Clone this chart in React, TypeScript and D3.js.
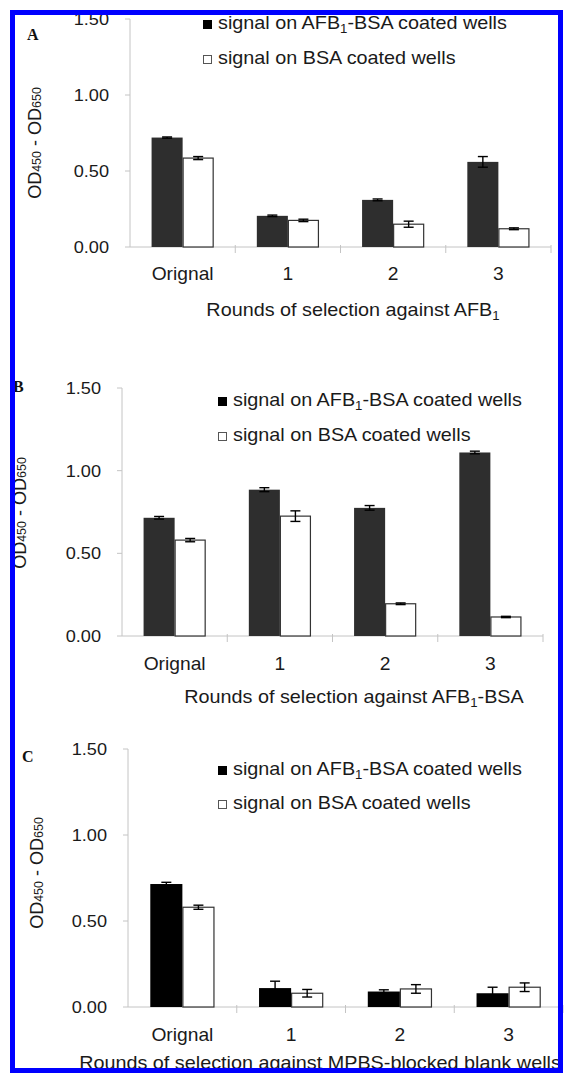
import * as d3 from "d3";

const W = 566;
const H = 1073;
const SX = 1.1; // the source figure is stretched sideways, text too
const FONT = "'Liberation Sans', Arial, Helvetica, sans-serif";

const categories = ["Orignal", "1", "2", "3"];
const yTicks = [0, 0.5, 1.0, 1.5];
const legendAfb = ["signal on AFB", "1", "-BSA coated wells"];
const legendBsa = "signal on BSA coated wells";

// panel A: selection against AFB1
const afbA = [0.72, 0.205, 0.31, 0.56];
const afbErrA = [0.004, 0.005, 0.006, 0.035];
const bsaA = [0.585, 0.175, 0.15, 0.12];
const bsaErrA = [0.01, 0.008, 0.02, 0.006];

// panel B: selection against AFB1-BSA
const afbB = [0.715, 0.885, 0.775, 1.11];
const afbErrB = [0.008, 0.012, 0.014, 0.008];
const bsaB = [0.58, 0.725, 0.195, 0.115];
const bsaErrB = [0.01, 0.032, 0.005, 0.004];

// panel C: selection against MPBS-blocked blank wells
const afbC = [0.715, 0.11, 0.09, 0.08];
const afbErrC = [0.01, 0.04, 0.01, 0.035];
const bsaC = [0.58, 0.08, 0.105, 0.115];
const bsaErrC = [0.012, 0.022, 0.025, 0.025];

const panels = [
  {
    letter: "A", afb: afbA, afbErr: afbErrA, bsa: bsaA, bsaErr: bsaErrA,
    title: ["Rounds of selection against AFB", "1", ""],
    x0: 130, x1: 551, yTop: 19, yBot: 247, fill: "#2e2e2e",
    legX: 203, leg1: 29, leg2: 64, tickY: 280, titleX: 353, titleY: 316,
    yLabX: 35, yLabY: 143, letX: 27, letY: 40,
  },
  {
    letter: "B", afb: afbB, afbErr: afbErrB, bsa: bsaB, bsaErr: bsaErrB,
    title: ["Rounds of selection against AFB", "1", "-BSA"],
    x0: 122, x1: 543, yTop: 388, yBot: 636, fill: "#2e2e2e",
    legX: 218, leg1: 406, leg2: 441, tickY: 670, titleX: 354, titleY: 703,
    yLabX: 20, yLabY: 513, letX: 13, letY: 392,
  },
  {
    letter: "C", afb: afbC, afbErr: afbErrC, bsa: bsaC, bsaErr: bsaErrC,
    title: ["Rounds of selection against MPBS-blocked blank wells", "", ""],
    x0: 128, x1: 563, yTop: 749, yBot: 1007, fill: "#000",
    legX: 218, leg1: 775, leg2: 809, tickY: 1041, titleX: 320, titleY: 1069,
    yLabX: 37, yLabY: 873, letX: 22, letY: 762,
  },
];

function Txt({ x, y, size, anchor = "start", children }) {
  return (
    <text
      transform={`translate(${x},${y}) scale(${SX},1)`}
      fontSize={size}
      textAnchor={anchor}
      fill="#1a1a1a"
    >
      {children}
    </text>
  );
}

function ErrBar({ cx, y, v, e }) {
  const top = y(v + e);
  const bot = y(v - e);
  return (
    <g stroke="#000" strokeWidth={1.4}>
      <line x1={cx} x2={cx} y1={top} y2={bot} />
      <line x1={cx - 5} x2={cx + 5} y1={top} y2={top} />
      <line x1={cx - 5} x2={cx + 5} y1={bot} y2={bot} />
    </g>
  );
}

function Panel({ p }) {
  const x = d3.scaleBand().domain(categories).range([p.x0, p.x1]);
  const y = d3.scaleLinear().domain([0, 1.5]).range([p.yBot, p.yTop]);
  const bw = x.bandwidth() * 0.295;
  const axis = "#c4c4c4";
  const bounds = categories.map((c) => x(c)).concat([p.x1]);

  return (
    <g fontFamily={FONT}>
      {/* axes */}
      <line x1={p.x0} x2={p.x0} y1={p.yTop} y2={p.yBot} stroke={axis} />
      <line x1={p.x0} x2={p.x1} y1={p.yBot} y2={p.yBot} stroke={axis} />
      {yTicks.map((t) => (
        <g key={t}>
          <line x1={p.x0 - 5} x2={p.x0} y1={y(t)} y2={y(t)} stroke={axis} />
          <Txt x={p.x0 - 21} y={y(t) + 6} size={16.5} anchor="end">
            {d3.format(".2f")(t)}
          </Txt>
        </g>
      ))}
      {bounds.slice(1).map((b, i) => (
        <line key={i} x1={b} x2={b} y1={p.yBot - 2} y2={p.yBot + 6} stroke={axis} />
      ))}

      {/* bars */}
      {categories.map((c, i) => {
        const cx = x(c) + x.bandwidth() / 2;
        return (
          <g key={c}>
            <rect x={cx - bw} y={y(p.afb[i])} width={bw} height={p.yBot - y(p.afb[i])} fill={p.fill} />
            <rect
              x={cx + 0.5}
              y={y(p.bsa[i])}
              width={bw - 1}
              height={p.yBot - y(p.bsa[i])}
              fill="#fff"
              stroke="#333"
              strokeWidth={1.2}
            />
            <ErrBar cx={cx - bw / 2} y={y} v={p.afb[i]} e={p.afbErr[i]} />
            <ErrBar cx={cx + bw / 2} y={y} v={p.bsa[i]} e={p.bsaErr[i]} />
            <Txt x={cx} y={p.tickY} size={17.5} anchor="middle">{c}</Txt>
          </g>
        );
      })}

      {/* legend */}
      <rect x={p.legX} y={p.leg1 - 9} width={9} height={9} fill="#000" />
      <Txt x={p.legX + 15} y={p.leg1} size={18}>
        {legendAfb[0]}
        <tspan fontSize={12} dy={4}>{legendAfb[1]}</tspan>
        <tspan dy={-4}>{legendAfb[2]}</tspan>
      </Txt>
      <rect x={p.legX + 0.5} y={p.leg2 - 8.5} width={8} height={8} fill="#fff" stroke="#555" />
      <Txt x={p.legX + 15} y={p.leg2} size={18}>{legendBsa}</Txt>

      {/* x title */}
      <Txt x={p.titleX} y={p.titleY} size={18} anchor="middle">
        {p.title[0]}
        {p.title[1] && <tspan fontSize={12} dy={4}>{p.title[1]}</tspan>}
        {p.title[1] && <tspan dy={-4}>{p.title[2]}</tspan>}
      </Txt>

      {/* y title */}
      <text
        transform={`translate(${p.yLabX + 6},${p.yLabY}) rotate(-90)`}
        fontSize={18}
        textAnchor="middle"
        fill="#1a1a1a"
      >
        OD<tspan fontSize={12.5}>450</tspan> - OD<tspan fontSize={12.5}>650</tspan>
      </text>

      {/* panel letter */}
      <text
        x={p.letX}
        y={p.letY}
        fontFamily="'Liberation Serif', 'Times New Roman', serif"
        fontWeight="bold"
        fontSize={16}
        fill="#111"
      >
        {p.letter}
      </text>
    </g>
  );
}

export default function App() {
  return (
    <svg
      width={W}
      height={H}
      viewBox={`0 0 ${W} ${H}`}
      style={{ position: "absolute", left: 0, top: 0, background: "#fff" }}
    >
      <rect width={W} height={H} fill="#fff" />
      {panels.map((p) => (
        <Panel key={p.letter} p={p} />
      ))}
      <rect x={12.5} y={12.5} width={548} height={1058} fill="none" stroke="#0000ff" strokeWidth={5} />
    </svg>
  );
}
